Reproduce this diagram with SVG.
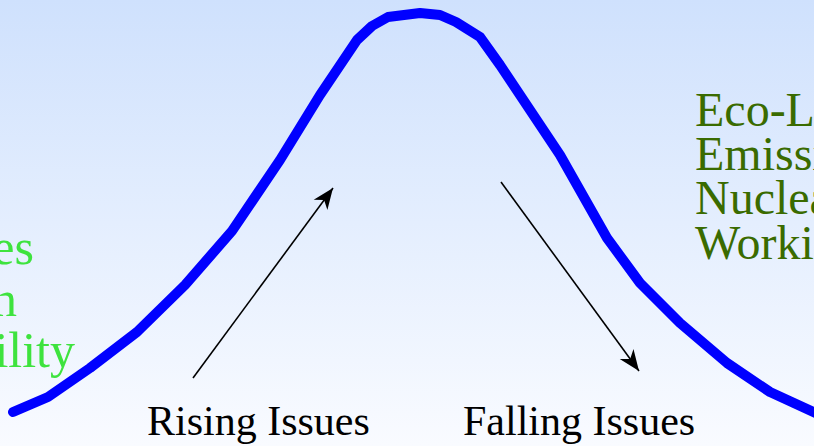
<svg xmlns="http://www.w3.org/2000/svg" width="814" height="446" viewBox="0 0 814 446">
<defs>
<linearGradient id="bg" x1="0" y1="0" x2="0" y2="1">
<stop offset="0" stop-color="#cfe1fd"/>
<stop offset="1" stop-color="#f9fbff"/>
</linearGradient>
<marker id="ah" markerUnits="userSpaceOnUse" markerWidth="30" markerHeight="30" refX="0" refY="0" viewBox="-25 -15 30 30" orient="auto">
<path d="M0,0 L-21,-8.5 L-15,0 L-21,8.5 Z" fill="#000"/>
</marker>
<style>
.lbl{font-family:"Liberation Serif","Times New Roman",serif;font-size:42px;fill:#000}
.left{font-family:"Liberation Serif","Times New Roman",serif;font-size:50px;fill:#3ee33e}
.right{font-family:"Liberation Serif","Times New Roman",serif;font-size:48px;fill:#3a6b00}
.arr{stroke:#000;stroke-width:1.6;fill:none;marker-end:url(#ah)}
</style>
</defs>
<rect width="814" height="446" fill="url(#bg)"/>
<g id="curve">
<polyline points="13,412 48,397 90,368 137,332 185,285 232,231 280,160 320,95 357,40 372,26 388,17 420,13 440,15 456,22 480,37 500,65 530,110 560,155 607,238 640,283 680,323 727,363 770,392 822,416" fill="none" stroke="#0000ff" stroke-width="10" stroke-linecap="round" stroke-linejoin="round"/>
</g>
<g id="connectors">
<line class="arr" x1="193" y1="378" x2="333" y2="188"/>
<line class="arr" x1="501" y1="182" x2="639" y2="371"/>
</g>
<g id="left-text">
<text class="left" x="34" y="264" text-anchor="end">es</text>
<text class="left" x="17" y="316" text-anchor="end">n</text>
<text class="left" x="75" y="367" text-anchor="end">ility</text>
</g>
<g id="right-text">
<text class="right" x="695" y="126">Eco-L</text>
<text class="right" x="695" y="170">Emissi</text>
<text class="right" x="695" y="214">Nuclea</text>
<text class="right" x="695" y="259">Worki</text>
</g>
<g id="rising">
<text class="lbl" x="147" y="435">Rising Issues</text>
</g>
<g id="falling">
<text class="lbl" x="463" y="435">Falling Issues</text>
</g>
</svg>
